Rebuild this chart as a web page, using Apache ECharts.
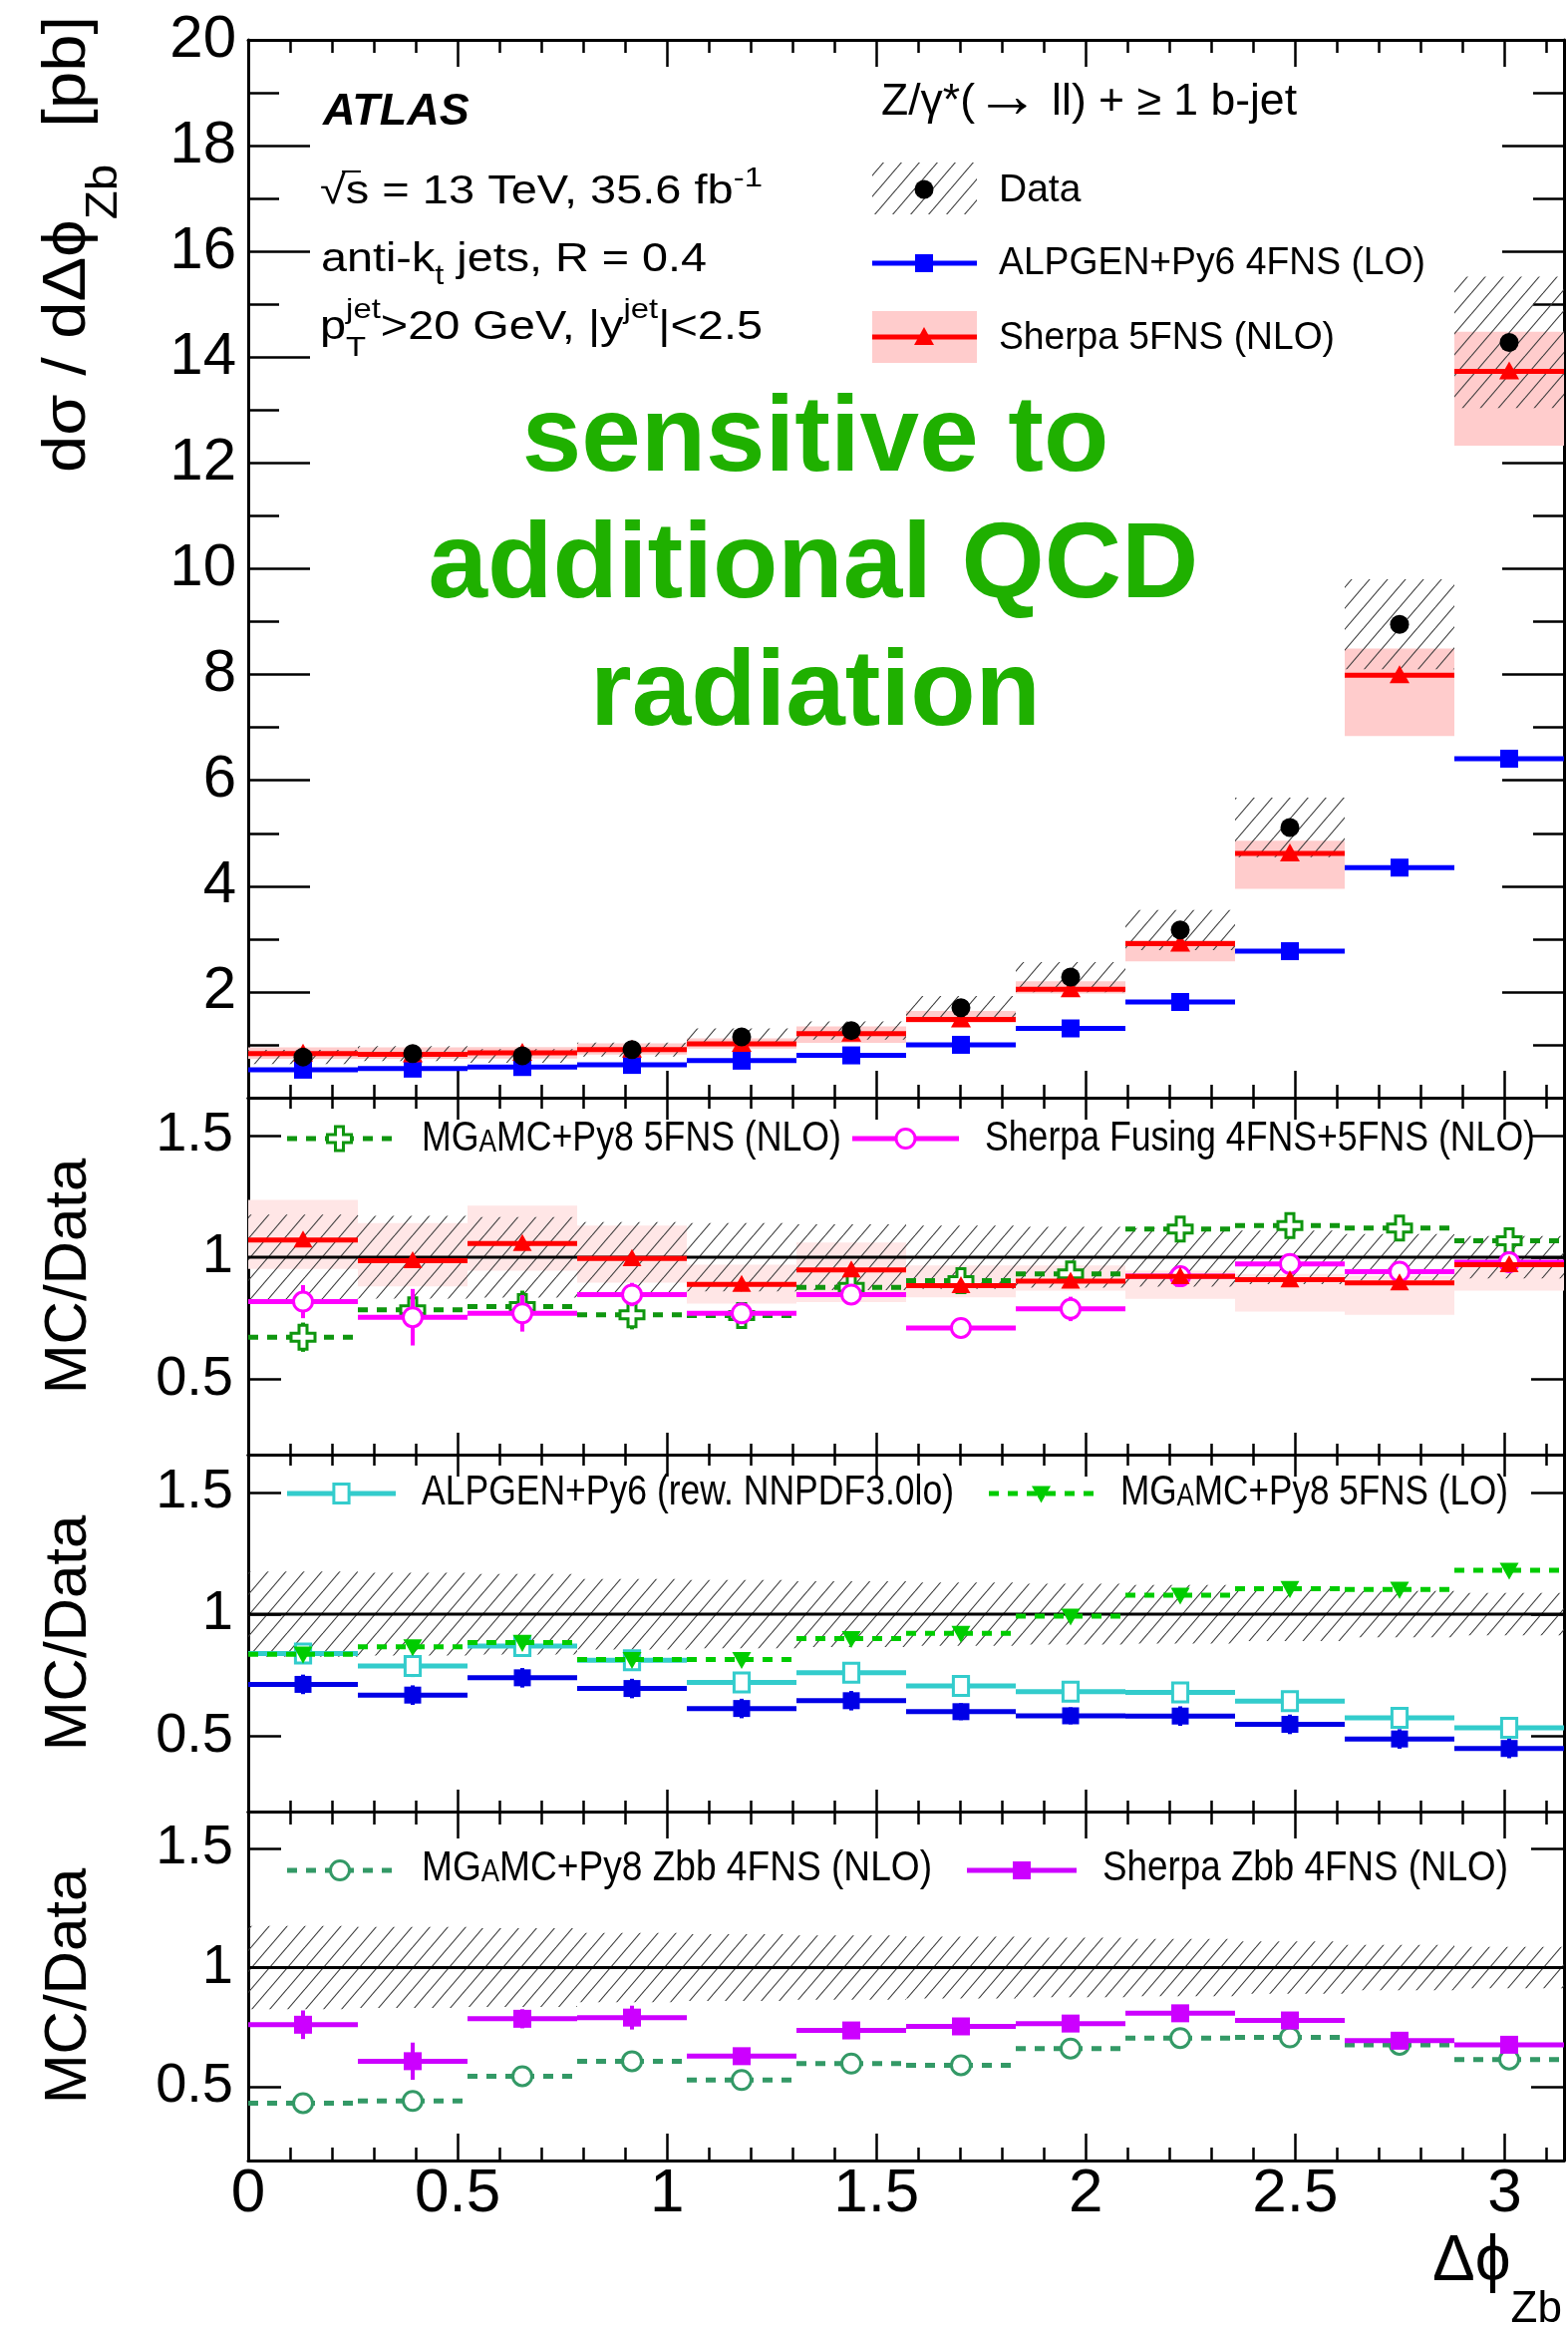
<!DOCTYPE html>
<html><head><meta charset="utf-8">
<script src="https://cdn.jsdelivr.net/npm/echarts@6/dist/echarts.min.js"></script>
<style>html,body{margin:0;padding:0;background:#fff;overflow:hidden}#c{width:1573px;height:2336px}</style>
</head><body><div id="c"></div>
<script>
// ---------------- data ----------------
const binEdges = [0, 0.2618, 0.5236, 0.7854, 1.0472, 1.3090, 1.5708, 1.8326, 2.0944, 2.3562, 2.6180, 2.8798, 3.1416];
const xMajorTicks = [0, 0.5, 1, 1.5, 2, 2.5, 3];
const xMinorTicks = [0.1,0.2,0.3,0.4,0.6,0.7,0.8,0.9,1.1,1.2,1.3,1.4,1.6,1.7,1.8,1.9,2.1,2.2,2.3,2.4,2.6,2.7,2.8,2.9,3.1];
const ratioTicks = [0.5, 1, 1.5];

// main panel (pb)
const dataXsec   = [0.77, 0.835, 0.79, 0.91, 1.15, 1.27, 1.70, 2.28, 3.17, 5.11, 8.95, 14.28];
const dataRelUnc = [0.175, 0.17, 0.165, 0.145, 0.14, 0.135, 0.13, 0.125, 0.12, 0.11, 0.095, 0.087];
const sherpa5FNS   = [0.835, 0.82, 0.85, 0.91, 1.02, 1.21, 1.48, 2.05, 2.91, 4.62, 7.99, 13.73];
const sherpa5FNSLo = [0.733, 0.736, 0.742, 0.817, 0.93, 1.036, 1.42, 1.97, 2.58, 3.95, 6.84, 12.33];
const sherpa5FNSHi = [0.952, 0.954, 0.957, 1.028, 1.12, 1.347, 1.64, 2.20, 2.98, 4.86, 8.49, 14.48];
const alpgen4FNS   = [0.53, 0.55, 0.58, 0.62, 0.70, 0.80, 1.00, 1.31, 1.81, 2.77, 4.35, 6.41];

// ratio panel 1
const r1Sherpa5   = [1.071, 0.986, 1.057, 0.995, 0.889, 0.948, 0.884, 0.902, 0.921, 0.908, 0.895, 0.97];
const r1Sherpa5Lo = [0.952, 0.881, 0.945, 0.896, 0.81, 0.816, 0.836, 0.863, 0.829, 0.777, 0.764, 0.863];
const r1Sherpa5Hi = [1.236, 1.140, 1.212, 1.130, 0.97, 1.061, 0.966, 0.966, 0.945, 0.932, 0.925, 0.986];
const r1Mg5Nlo    = [0.672, 0.784, 0.798, 0.764, 0.761, 0.876, 0.904, 0.932, 1.116, 1.130, 1.120, 1.068];
const r1Mg5NloErr = [0.06, 0.04, 0.065, 0.06, 0.03, 0.04, 0.03, 0.03, 0.03, 0.03, 0.03, 0.03];
const r1SherpaFus    = [0.818, 0.754, 0.77, 0.847, 0.770, 0.847, 0.710, 0.788, 0.922, 0.973, 0.941, 0.98];
const r1SherpaFusErr = [0.068, 0.116, 0.075, 0.048, 0.03, 0.04, 0.025, 0.05, 0.03, 0.035, 0.03, 0.02];

// ratio panel 2
const r2AlpgenRew    = [0.839, 0.787, 0.869, 0.811, 0.72, 0.76, 0.706, 0.682, 0.679, 0.643, 0.575, 0.534];
const r2AlpgenRewErr = [0.04, 0.045, 0.04, 0.04, 0.04, 0.04, 0.035, 0.035, 0.04, 0.04, 0.04, 0.04];
const r2Alpgen       = [0.712, 0.668, 0.739, 0.695, 0.613, 0.645, 0.6, 0.583, 0.582, 0.548, 0.488, 0.449];
const r2AlpgenErr    = [0.04, 0.04, 0.04, 0.04, 0.04, 0.04, 0.035, 0.035, 0.04, 0.04, 0.04, 0.04];
const r2Mg5Lo        = [0.836, 0.866, 0.884, 0.814, 0.814, 0.9, 0.921, 0.992, 1.078, 1.105, 1.102, 1.18];

// ratio panel 3
const r3SherpaZbb    = [0.76, 0.607, 0.785, 0.79, 0.628, 0.736, 0.753, 0.765, 0.808, 0.778, 0.693, 0.676];
const r3SherpaZbbErr = [0.06, 0.078, 0.04, 0.05, 0.035, 0.035, 0.035, 0.035, 0.035, 0.035, 0.03, 0.03];
const r3MgZbb        = [0.431, 0.44, 0.544, 0.607, 0.528, 0.597, 0.59, 0.66, 0.704, 0.707, 0.676, 0.614];

// ---------------- helpers ----------------
const FONT = "'Liberation Sans', Arial, Helvetica, sans-serif";
const PI = Math.PI;
const C = {red:'#ff0000', pink:'#ffcccc', pinkR:'#ffe6e6', blue:'#0000ff', blue2:'#0000e6', green:'#0f960f',
           green2:'#00cc00', teal:'#339966', mag:'#ff00ff', cyan:'#33cccc', purple:'#cc00ff', qcd:'#1fb000'};

function hatchCanvas() {
  const P = 18, H = 21;
  const c = document.createElement('canvas'); c.width = P; c.height = H;
  const g = c.getContext('2d');
  g.strokeStyle = '#3a3a3a'; g.lineWidth = 1.1;
  for (let k = -1; k <= 1; k++) { g.beginPath(); g.moveTo(k * P, H); g.lineTo(k * P + P, 0); g.stroke(); }
  return c;
}
const HATCH = {image: hatchCanvas(), repeat: 'repeat'};

function marker(type, cx, cy, s, color) {
  const h = s / 2;
  switch (type) {
    case 'circle': return {type:'circle', shape:{cx, cy, r:h}, style:{fill:color}};
    case 'ocircle': return {type:'circle', shape:{cx, cy, r:h}, style:{fill:'#fff', stroke:color, lineWidth:3}};
    case 'square': return {type:'rect', shape:{x:cx-h, y:cy-h, width:s, height:s}, style:{fill:color}};
    case 'osquare': return {type:'rect', shape:{x:cx-h*0.8, y:cy-h, width:s*0.8, height:s}, style:{fill:'#fff', stroke:color, lineWidth:3}};
    case 'tri': return {type:'polygon', shape:{points:[[cx-h, cy+h*0.8],[cx+h, cy+h*0.8],[cx, cy-h*1.0]]}, style:{fill:color}};
    case 'dtri': return {type:'polygon', shape:{points:[[cx-h, cy-h*0.8],[cx+h, cy-h*0.8],[cx, cy+h*1.0]]}, style:{fill:color}};
    case 'ocross': {
      const t = s / 6;
      const p = [[-t,-h],[t,-h],[t,-t],[h,-t],[h,t],[t,t],[t,h],[-t,h],[-t,t],[-h,t],[-h,-t],[-t,-t]].map(q => [cx+q[0], cy+q[1]]);
      return {type:'polygon', shape:{points:p}, style:{fill:'#fff', stroke:color, lineWidth:3}};
    }
  }
}

const AX = g => ({xAxisIndex: 4 * g, yAxisIndex: 2 * g});

function bandSeries(g, lo, hi, fill, z) {
  return Object.assign({type:'custom', z, clip:true, silent:true,
    data: lo.map((l, i) => [binEdges[i], binEdges[i+1], l, hi[i]]),
    encode: {x:[0,1], y:[2,3]},
    renderItem(params, api) {
      const a = api.coord([api.value(0), api.value(3)]);
      const b = api.coord([api.value(1), api.value(2)]);
      return {type:'rect', shape:{x:a[0], y:a[1], width:b[0]-a[0], height:b[1]-a[1]}, style:{fill}};
    }}, AX(g));
}

function stepSeries(g, vals, o) {
  return Object.assign({type:'custom', z:o.z || 5, clip:true, silent:true,
    data: vals.map((v, i) => [binEdges[i], binEdges[i+1], v, o.err ? o.err[i] : 0]),
    encode: {x:[0,1], y:2},
    renderItem(params, api) {
      const x0 = api.value(0), x1 = api.value(1), v = api.value(2), e = api.value(3), xc = (x0 + x1) / 2;
      const p0 = api.coord([x0, v]), p1 = api.coord([x1, v]), pc = api.coord([xc, v]);
      const ch = [];
      if (o.lw) ch.push({type:'line', shape:{x1:p0[0], y1:p0[1], x2:p1[0], y2:p1[1]}, style:{stroke:o.color, lineWidth:o.lw, lineDash:o.dash || null}});
      if (e > 0) {
        const pa = api.coord([xc, v - e]), pb = api.coord([xc, v + e]);
        ch.push({type:'line', shape:{x1:pa[0], y1:pa[1], x2:pb[0], y2:pb[1]}, style:{stroke:o.color, lineWidth:o.elw || 4}});
      }
      if (o.marker) ch.push(marker(o.marker, pc[0], pc[1], o.ms || 18, o.color));
      return {type:'group', children:ch};
    }}, AX(g));
}

function unitySeries(g) {
  return Object.assign({type:'line', z:4, silent:true, symbol:'none', data:[[0, 1], [PI, 1]],
    lineStyle:{color:'#000', width:3}}, AX(g));
}

const mctx = document.createElement('canvas').getContext('2d');
// parts: {t, fs, dy, adv, w, st}
function richLine(x, yBase, parts, opts) {
  opts = opts || {};
  let cx = 0; const children = [];
  parts.forEach(p => {
    const font = `${p.st || 'normal'} ${p.w || 'normal'} ${p.fs}px ${FONT}`;
    mctx.font = font;
    const w = mctx.measureText(p.t).width;
    children.push({type:'text', x:cx, y:(p.dy || 0) - 0.35 * p.fs,
      style:{text:p.t, font, fill:opts.color || '#000', align:'left', verticalAlign:'middle', textAlign:'left', textVerticalAlign:'middle'}});
    if (p.adv !== false) cx += w;
  });
  const sx = opts.width ? opts.width / cx : 1;
  if (opts.center) children.forEach(c => { c.x -= cx / 2; });
  return {type:'group', x, y:yBase, rotation:opts.rot || 0, scaleX:sx, children};
}

// ---------------- layout ----------------
const grids = [
  {left:249, top:40,   width:1320, height:1061},
  {left:249, top:1101, width:1320, height:358},
  {left:249, top:1459, width:1320, height:358},
  {left:249, top:1817, width:1320, height:350}
];
const Lmaj = [27, 22, 22, 27], Lmin = [13, 11, 11, 13];
const tickLS = {color:'#000', width:2.5};
const frameLS = {color:'#000', width:3};

function xAxesFor(g, labels) {
  const base = {gridIndex:g, type:'value', min:0, max:PI, splitLine:{show:false}, minorTick:{show:false}, axisLabel:{show:false}};
  const maj = {show:true, inside:true, length:Lmaj[g], customValues:xMajorTicks, lineStyle:tickLS};
  const min = {show:true, inside:true, length:Lmin[g], customValues:xMinorTicks, lineStyle:tickLS};
  return [
    Object.assign({}, base, {position:'bottom', axisLine:{show:true, onZero:false, lineStyle:frameLS}, axisTick:maj,
      axisLabel: labels ? {show:true, customValues:xMajorTicks, fontSize:62, margin:3, color:'#000', fontFamily:FONT} : {show:false}}),
    Object.assign({}, base, {position:'bottom', axisLine:{show:false, onZero:false}, axisTick:min}),
    Object.assign({}, base, {position:'top', axisLine:{show:true, onZero:false, lineStyle:frameLS}, axisTick:maj}),
    Object.assign({}, base, {position:'top', axisLine:{show:false, onZero:false}, axisTick:min})
  ];
}
function yAxesFor(g) {
  if (g === 0) {
    const base = {gridIndex:0, type:'value', min:0, max:20, interval:2, splitLine:{show:false},
      axisLine:{show:true, onZero:false, lineStyle:frameLS},
      axisTick:{show:true, inside:true, length:62, lineStyle:tickLS},
      minorTick:{show:true, splitNumber:2, length:31, lineStyle:tickLS}};
    return [
      Object.assign({}, base, {position:'left', axisLabel:{show:true, fontSize:60, margin:12, color:'#000', fontFamily:FONT, formatter:v => v === 0 ? '' : String(v)}}),
      Object.assign({}, base, {position:'right', axisLabel:{show:false}})
    ];
  }
  const base = {gridIndex:g, type:'value', min:0.19, max:1.655, splitLine:{show:false}, minorTick:{show:false},
    axisLine:{show:true, onZero:false, lineStyle:frameLS},
    axisTick:{show:true, inside:true, length:33, customValues:ratioTicks, lineStyle:tickLS}};
  return [
    Object.assign({}, base, {position:'left', axisLabel:{show:true, customValues:ratioTicks, fontSize:56, margin:15, color:'#000', fontFamily:FONT}}),
    Object.assign({}, base, {position:'right', axisLabel:{show:false}})
  ];
}

const xAxis = [].concat(xAxesFor(0,false), xAxesFor(1,false), xAxesFor(2,false), xAxesFor(3,true));
const yAxis = [].concat(yAxesFor(0), yAxesFor(1), yAxesFor(2), yAxesFor(3));

const hatchLo = () => dataRelUnc.map(r => 1 - r);
const hatchHi = () => dataRelUnc.map(r => 1 + r);

const series = [
  // main panel
  bandSeries(0, sherpa5FNSLo, sherpa5FNSHi, C.pink, 1),
  bandSeries(0, dataXsec.map((d, i) => d * (1 - dataRelUnc[i])), dataXsec.map((d, i) => d * (1 + dataRelUnc[i])), HATCH, 2),
  stepSeries(0, alpgen4FNS, {color:C.blue, lw:5, marker:'square', ms:18, z:5}),
  stepSeries(0, sherpa5FNS, {color:C.red, lw:5, marker:'tri', ms:20, z:6}),
  stepSeries(0, dataXsec, {color:'#000', lw:0, marker:'circle', ms:19, z:7}),
  // ratio 1
  bandSeries(1, r1Sherpa5Lo, r1Sherpa5Hi, C.pinkR, 1),
  bandSeries(1, hatchLo(), hatchHi(), HATCH, 2),
  unitySeries(1),
  stepSeries(1, r1Mg5Nlo, {color:C.green, lw:5, dash:[10, 9], err:r1Mg5NloErr, marker:'ocross', ms:24, z:5}),
  stepSeries(1, r1SherpaFus, {color:C.mag, lw:5, err:r1SherpaFusErr, marker:'ocircle', ms:19, z:6}),
  stepSeries(1, r1Sherpa5, {color:C.red, lw:5, marker:'tri', ms:19, z:7}),
  // ratio 2
  bandSeries(2, hatchLo(), hatchHi(), HATCH, 2),
  unitySeries(2),
  stepSeries(2, r2AlpgenRew, {color:C.cyan, lw:5, err:r2AlpgenRewErr, marker:'osquare', ms:19, z:5}),
  stepSeries(2, r2Alpgen, {color:C.blue2, lw:5, err:r2AlpgenErr, marker:'square', ms:17, z:6}),
  stepSeries(2, r2Mg5Lo, {color:C.green2, lw:5, dash:[10, 9], marker:'dtri', ms:19, z:7}),
  // ratio 3
  bandSeries(3, hatchLo(), hatchHi(), HATCH, 2),
  unitySeries(3),
  stepSeries(3, r3MgZbb, {color:C.teal, lw:5, dash:[10, 9], marker:'ocircle', ms:19, z:5}),
  stepSeries(3, r3SherpaZbb, {color:C.purple, lw:5, err:r3SherpaZbbErr, marker:'square', ms:18, z:6})
];

// ---------------- texts / legends ----------------
const G = [];
// annotations
G.push(richLine(324, 128, [{t:'ATLAS', fs:45, w:'bold', st:'italic'}]));
G.push(richLine(321, 207, [{t:'√s = 13 TeV, 35.6 fb', fs:40}, {t:'-1', fs:28, dy:-18}], {width:444}));
G.push({type:'line', shape:{x1:343, y1:172, x2:362, y2:172}, style:{stroke:'#000', lineWidth:2}});
G.push(richLine(322, 275, [{t:'anti-k', fs:40}, {t:'t', fs:28, dy:12}, {t:' jets, R = 0.4', fs:40}], {width:387}));
G.push(richLine(321, 343, [{t:'p', fs:40}, {t:'T', fs:28, dy:16, adv:false}, {t:'jet', fs:28, dy:-22},
  {t:'>20 GeV, |y', fs:40}, {t:'jet', fs:28, dy:-22}, {t:'|<2.5', fs:40}], {width:444}));
G.push(richLine(884, 118, [{t:'Z/γ*(', fs:44}, {t:'→', fs:64, dy:4}, {t:' ll) + ≥ 1 b-jet', fs:44}], {width:417}));
// big green text
G.push(richLine(818, 480, [{t:'sensitive to', fs:107, w:'bold'}], {center:true, color:C.qcd}));
G.push(richLine(816, 607, [{t:'additional QCD', fs:107, w:'bold'}], {center:true, color:C.qcd}));
G.push(richLine(818, 735, [{t:'radiation', fs:107, w:'bold'}], {center:true, color:C.qcd}));

// main legend
G.push({type:'rect', shape:{x:875, y:163, width:105, height:52}, style:{fill:HATCH}});
G.push(marker('circle', 927, 190, 19, '#000'));
G.push({type:'line', shape:{x1:875, y1:264, x2:980, y2:264}, style:{stroke:C.blue, lineWidth:5}});
G.push(marker('square', 927, 264, 18, C.blue));
G.push({type:'rect', shape:{x:875, y:312, width:105, height:52}, style:{fill:C.pink}});
G.push({type:'line', shape:{x1:875, y1:338, x2:980, y2:338}, style:{stroke:C.red, lineWidth:5}});
G.push(marker('tri', 927, 338, 20, C.red));
G.push(richLine(1002, 205, [{t:'Data', fs:39}]));
G.push(richLine(1002, 278, [{t:'ALPGEN+Py6 4FNS (LO)', fs:39}], {width:428}));
G.push(richLine(1002, 353, [{t:'Sherpa 5FNS (NLO)', fs:39}], {width:337}));

// ratio legends
function legGlyph(x1, x2, y, color, dash, mk, ms) {
  G.push({type:'line', shape:{x1, y1:y, x2, y2:y}, style:{stroke:color, lineWidth:5, lineDash:dash || null}});
  G.push(marker(mk, (x1 + x2) / 2, y, ms, color));
}
const mgParts = (rest) => [{t:'MG', fs:42}, {t:'A', fs:31}, {t:rest, fs:42}];
legGlyph(288, 393, 1142, C.green, [10, 9], 'ocross', 24);
G.push(richLine(423, 1157, mgParts('MC+Py8 5FNS (NLO)'), {width:421}));
legGlyph(855, 962, 1142, C.mag, null, 'ocircle', 19);
G.push(richLine(988, 1157, [{t:'Sherpa Fusing 4FNS+5FNS (NLO)', fs:42}], {width:552}));

legGlyph(288, 397, 1498, C.cyan, null, 'osquare', 19);
G.push(richLine(423, 1512, [{t:'ALPGEN+Py6 (rew. NNPDF3.0lo)', fs:42}], {width:534}));
legGlyph(992, 1097, 1498, C.green2, [10, 9], 'dtri', 19);
G.push(richLine(1124, 1512, mgParts('MC+Py8 5FNS (LO)'), {width:389}));

legGlyph(288, 394, 1876, C.teal, [10, 9], 'ocircle', 19);
G.push(richLine(423, 1889, mgParts('MC+Py8 Zbb 4FNS (NLO)'), {width:512}));
legGlyph(970, 1080, 1876, C.purple, null, 'square', 18);
G.push(richLine(1106, 1889, [{t:'Sherpa Zbb 4FNS (NLO)', fs:42}], {width:407}));

// axis titles
G.push(richLine(90, 474, [{t:'dσ / dΔϕ', fs:62}, {t:'Zb', fs:44, dy:30}, {t:'  [pb]', fs:62}], {rot:PI/2, width:458}));
[1280, 1638, 1992].forEach(yc => G.push(richLine(90, yc, [{t:'MC/Data', fs:60}], {rot:PI/2, center:true})));
G.push(richLine(1437, 2292, [{t:'Δϕ', fs:64}, {t:'Zb', fs:44, dy:40}]));

const option = {
  animation:false,
  backgroundColor:'#ffffff',
  textStyle:{fontFamily:FONT},
  grid: grids.map(g => Object.assign({containLabel:false, outerBoundsMode:'none', show:false}, g)),
  xAxis, yAxis, series,
  graphic:{elements:G}
};
const chart = echarts.init(document.getElementById('c'), null, {renderer:'canvas', width:1573, height:2336});
chart.setOption(option);
</script></body></html>
